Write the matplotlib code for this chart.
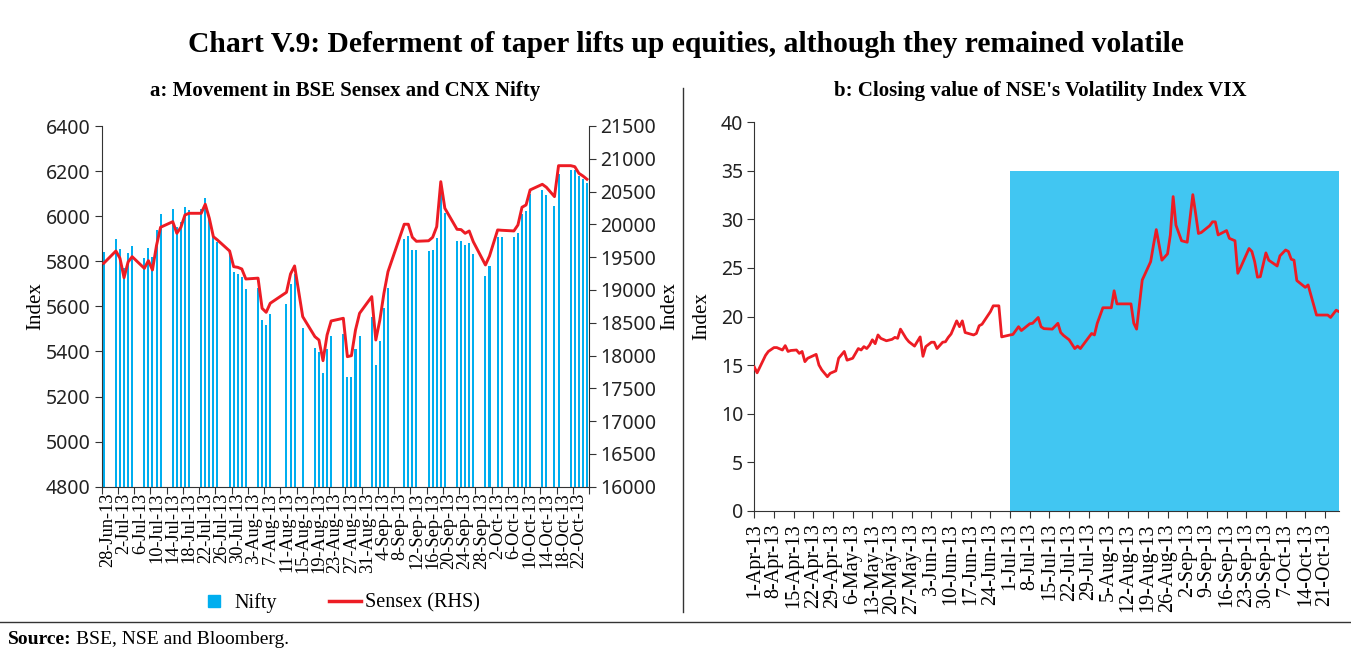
import numpy as np
import pandas as pd
import matplotlib
matplotlib.use('Agg')
import matplotlib.pyplot as plt
from matplotlib.lines import Line2D

# ---- panel a: BSE Sensex and CNX Nifty (trading days) ----
trade_dates = ['2013-06-28',
               '2013-07-01', '2013-07-02', '2013-07-03', '2013-07-04', '2013-07-05',
               '2013-07-08', '2013-07-09', '2013-07-10', '2013-07-11', '2013-07-12',
               '2013-07-15', '2013-07-16', '2013-07-17', '2013-07-18', '2013-07-19',
               '2013-07-22', '2013-07-23', '2013-07-24', '2013-07-25', '2013-07-26',
               '2013-07-29', '2013-07-30', '2013-07-31', '2013-08-01', '2013-08-02',
               '2013-08-05', '2013-08-06', '2013-08-07', '2013-08-08',
               '2013-08-12', '2013-08-13', '2013-08-14', '2013-08-16',
               '2013-08-19', '2013-08-20', '2013-08-21', '2013-08-22', '2013-08-23',
               '2013-08-26', '2013-08-27', '2013-08-28', '2013-08-29', '2013-08-30',
               '2013-09-02', '2013-09-03', '2013-09-04', '2013-09-05', '2013-09-06',
               '2013-09-10', '2013-09-11', '2013-09-12', '2013-09-13',
               '2013-09-16', '2013-09-17', '2013-09-18', '2013-09-19', '2013-09-20',
               '2013-09-23', '2013-09-24', '2013-09-25', '2013-09-26', '2013-09-27',
               '2013-09-30', '2013-10-01', '2013-10-03', '2013-10-04',
               '2013-10-07', '2013-10-08', '2013-10-09', '2013-10-10', '2013-10-11',
               '2013-10-14', '2013-10-15', '2013-10-17', '2013-10-18',
               '2013-10-21', '2013-10-22', '2013-10-23', '2013-10-24', '2013-10-25']
nifty = [5842,
         5897, 5854, 5771, 5835, 5866,
         5813, 5861, 5817, 5938, 6009,
         6032, 5953, 5973, 6039, 6027,
         6032, 6080, 5990, 5907, 5886,
         5835, 5753, 5742, 5730, 5677,
         5682, 5539, 5517, 5564,
         5611, 5700, 5742, 5504,
         5415, 5397, 5303, 5409, 5468,
         5476, 5285, 5285, 5409, 5468,
         5551, 5338, 5445, 5592, 5682,
         5897, 5914, 5849, 5849,
         5844, 5849, 5903, 6115, 6015,
         5891, 5891, 5872, 5883, 5830,
         5735, 5777, 5907, 5907,
         5907, 5925, 6009, 6021, 6098,
         6115, 6092, 6044, 6186,
         6204, 6204, 6180, 6163, 6145]
sensex = [19407,
          19594, 19483, 19187, 19427, 19507,
          19330, 19447, 19305, 19680, 19956,
          20041, 19864, 19956, 20143, 20169,
          20169, 20307, 20093, 19812, 19762,
          19594, 19355, 19345, 19320, 19167,
          19180, 18720, 18659, 18797,
          18964, 19244, 19366, 18593,
          18288, 18237, 17922, 18313, 18527,
          18568, 17983, 17998, 18390, 18644,
          18898, 18237, 18542, 18949, 19279,
          20002, 20002, 19803, 19742,
          19750, 19803, 19965, 20651, 20246,
          19925, 19920, 19864, 19899, 19736,
          19381, 19518, 19915, 19910,
          19900, 19991, 20261, 20296, 20525,
          20611, 20566, 20423, 20895,
          20895, 20880, 20779, 20738, 20688]
a_first, a_last = '2013-06-28', '2013-10-25'

# ---- panel b: NSE VIX closing value ----
vix_dates = ['2013-04-01', '2013-04-02', '2013-04-03', '2013-04-05', '2013-04-06',
             '2013-04-08', '2013-04-09', '2013-04-11', '2013-04-12', '2013-04-13',
             '2013-04-14', '2013-04-16', '2013-04-17', '2013-04-18', '2013-04-19',
             '2013-04-20', '2013-04-23', '2013-04-24', '2013-04-25', '2013-04-27',
             '2013-04-28', '2013-04-30', '2013-05-01', '2013-05-03', '2013-05-04',
             '2013-05-06', '2013-05-08', '2013-05-09', '2013-05-10', '2013-05-11',
             '2013-05-12', '2013-05-13', '2013-05-14', '2013-05-15', '2013-05-16',
             '2013-05-18', '2013-05-20', '2013-05-21', '2013-05-22', '2013-05-23',
             '2013-05-25', '2013-05-26', '2013-05-28', '2013-05-30', '2013-05-31',
             '2013-06-01', '2013-06-03', '2013-06-04', '2013-06-05', '2013-06-07',
             '2013-06-08', '2013-06-09', '2013-06-10', '2013-06-12', '2013-06-13',
             '2013-06-14', '2013-06-15', '2013-06-18', '2013-06-19', '2013-06-20',
             '2013-06-21', '2013-06-24', '2013-06-25', '2013-06-27', '2013-06-28',
             '2013-07-01', '2013-07-02', '2013-07-04', '2013-07-05', '2013-07-08',
             '2013-07-09', '2013-07-11', '2013-07-12', '2013-07-13', '2013-07-16',
             '2013-07-18', '2013-07-19', '2013-07-20', '2013-07-22', '2013-07-24',
             '2013-07-25', '2013-07-26', '2013-07-30', '2013-07-31', '2013-08-01',
             '2013-08-03', '2013-08-06', '2013-08-07', '2013-08-08', '2013-08-13',
             '2013-08-14', '2013-08-15', '2013-08-17', '2013-08-20', '2013-08-21',
             '2013-08-22', '2013-08-24', '2013-08-26', '2013-08-27', '2013-08-28',
             '2013-08-29', '2013-08-31', '2013-09-02', '2013-09-04', '2013-09-05',
             '2013-09-06', '2013-09-07', '2013-09-10', '2013-09-11', '2013-09-12',
             '2013-09-13', '2013-09-16', '2013-09-17', '2013-09-19', '2013-09-20',
             '2013-09-21', '2013-09-24', '2013-09-25', '2013-09-26', '2013-09-27',
             '2013-09-28', '2013-09-30', '2013-10-01', '2013-10-04', '2013-10-05',
             '2013-10-07', '2013-10-08', '2013-10-09', '2013-10-10', '2013-10-11',
             '2013-10-14', '2013-10-15', '2013-10-18', '2013-10-22', '2013-10-23',
             '2013-10-25', '2013-10-26']
vix = [14.8, 14.2, 14.8, 16.0, 16.4,
       16.8, 16.8, 16.55, 17.0, 16.4,
       16.5, 16.55, 16.2, 16.4, 15.35,
       15.7, 16.1, 15.0, 14.5, 13.8,
       14.15, 14.4, 15.7, 16.4, 15.5,
       15.7, 16.7, 16.55, 16.9, 16.7,
       17.05, 17.6, 17.2, 18.1, 17.75,
       17.5, 17.65, 17.85, 17.75, 18.7,
       17.75, 17.4, 16.95, 17.9, 15.9,
       16.9, 17.35, 17.35, 16.7, 17.35,
       17.4, 17.85, 18.2, 19.55, 18.95,
       19.55, 18.35, 18.1, 18.25, 19.05,
       19.2, 20.5, 21.1, 21.1, 17.9,
       18.1, 18.15, 18.95, 18.55, 19.25,
       19.3, 19.9, 18.95, 18.75, 18.7,
       19.3, 18.35, 18.05, 17.6, 16.7,
       16.95, 16.7, 18.25, 18.1, 19.3,
       20.9, 20.9, 22.65, 21.3, 21.3,
       19.3, 18.7, 23.75, 25.65, 27.35,
       28.95, 25.8, 26.45, 28.4, 32.35,
       29.4, 27.8, 27.65, 32.55, 30.6,
       28.55, 28.65, 29.35, 29.75, 29.75,
       28.4, 28.85, 28.05, 27.8, 24.45,
       25.05, 27.0, 26.7, 25.65, 24.05,
       24.1, 26.55, 25.8, 25.2, 26.25,
       26.85, 26.7, 25.9, 25.8, 23.7,
       23.0, 23.25, 20.15, 20.15, 19.9,
       20.65, 20.5]
shade_from = '2013-07-01'
shade_top = 35
b_first, b_last = '2013-04-01', '2013-10-26'

serif = 'Liberation Serif'
sans = 'Noto Sans'
blue = '#00AEEF'
red = '#ED1C24'
shade = '#41C6F2'
dark = '#333333'

fig = plt.figure(figsize=(13.51, 6.62), dpi=100)
W, H = 1351.0, 662.0


def frac(x0, y0, x1, y1):
    return [x0 / W, 1 - y1 / H, (x1 - x0) / W, (y1 - y0) / H]


def style_ticks(ax):
    for lab in ax.get_yticklabels():
        lab.set_fontfamily(sans)
        lab.set_fontsize(14)
        lab.set_color('#222222')


# ---------------- panel a ----------------
a0 = pd.Timestamp(a_first)
n_days = (pd.Timestamp(a_last) - a0).days + 1
xa = (pd.to_datetime(trade_dates) - a0).days.values

ax1 = fig.add_axes(frac(101.7, 126, 589, 486.7))
ax1.bar(xa, nifty, width=0.5, color=blue, zorder=2)
ax1.set_ylim(4800, 6400)
ax1.set_yticks(np.arange(4800, 6401, 200))
ax1.set_xlim(-0.5, n_days - 0.5)

ax2 = ax1.twinx()
ax2.plot(xa, sensex, color=red, lw=2.1, zorder=3)
ax2.set_ylim(16000, 21500)
ax2.set_yticks(np.arange(16000, 21501, 500))
ax2.set_xlim(-0.5, n_days - 0.5)

lab_a = pd.date_range(a0, a_last, freq='4D')
ax1.set_xticks(np.arange(-0.5, n_days, 4))
ax1.set_xticklabels([])
ax1.set_xticks((lab_a - a0).days.values + 1.0, minor=True)
ax1.set_xticklabels([f'{d.day}-{d:%b-%y}' for d in lab_a], minor=True,
                    rotation=90, fontfamily=serif, fontsize=13.2)
ax1.tick_params(axis='x', which='major', length=5, direction='out', color=dark)
ax1.tick_params(axis='x', which='minor', length=0, pad=4)
ax1.tick_params(axis='y', length=5, color=dark, pad=3)
ax2.tick_params(axis='y', length=5, color=dark, pad=3)

for s in ['top', 'right']:
    ax1.spines[s].set_visible(False)
for s in ['top', 'left', 'bottom']:
    ax2.spines[s].set_visible(False)
for a in (ax1, ax2):
    for s in a.spines.values():
        s.set_color(dark)
style_ticks(ax1)
style_ticks(ax2)
ax1.set_ylabel('Index', fontfamily=serif, fontsize=15)
ax1.yaxis.set_label_coords(-0.116, 0.5)
ax2.set_ylabel('Index', fontfamily=serif, fontsize=15, rotation=90)
ax2.yaxis.set_label_coords(1.146, 0.5)

# ---------------- panel b ----------------
b0 = pd.Timestamp(b_first)
xb = (pd.to_datetime(vix_dates) - b0).days.values
b_end = (pd.Timestamp(b_last) - b0).days
s0 = (pd.Timestamp(shade_from) - b0).days

ax3 = fig.add_axes(frac(754.3, 122.3, 1339, 510.7))
ax3.fill_between([s0, b_end], 0, shade_top, color=shade, lw=0, zorder=1)
ax3.plot(xb, vix, color=red, lw=2.0, zorder=3)
ax3.set_xlim(0, b_end)
ax3.set_ylim(0, 40)
ax3.set_yticks(np.arange(0, 41, 5))
lab_b = pd.date_range(b0, '2013-10-21', freq='7D')
ax3.set_xticks((lab_b - b0).days.values)
ax3.set_xticklabels([f'{d.day}-{d:%b-%y}' for d in lab_b], rotation=90,
                    fontfamily=serif, fontsize=14.5)
ax3.tick_params(axis='x', length=5, color=dark, pad=4)
ax3.tick_params(axis='y', length=5, color=dark, pad=3)
for s in ['top', 'right']:
    ax3.spines[s].set_visible(False)
for s in ax3.spines.values():
    s.set_color(dark)
style_ticks(ax3)
ax3.set_ylabel('Index', fontfamily=serif, fontsize=15)
ax3.yaxis.set_label_coords(-0.074, 0.5)

# ---------------- titles, legend, frame ----------------
fig.text(686 / W, 1 - 45 / H,
         'Chart V.9: Deferment of taper lifts up equities, although they remained volatile',
         ha='center', va='center', fontfamily=serif, fontweight='bold', fontsize=21.3)
fig.text(345 / W, 1 - 91 / H, 'a: Movement in BSE Sensex and CNX Nifty',
         ha='center', va='center', fontfamily=serif, fontweight='bold', fontsize=15)
fig.text(1040 / W, 1 - 91 / H, "b: Closing value of NSE's Volatility Index VIX",
         ha='center', va='center', fontfamily=serif, fontweight='bold', fontsize=15)

handles = [Line2D([], [], marker='s', linestyle='none', markersize=8, color=blue),
           Line2D([], [], color=red, lw=2.5)]
fig.legend(handles, ['Nifty', 'Sensex (RHS)'], loc='center',
           bbox_to_anchor=(339 / W, 1 - 603 / H), ncol=2, frameon=False,
           prop={'family': serif, 'size': 14.5}, handlelength=1.6,
           handletextpad=0.2, columnspacing=2.6)

fig.add_artist(Line2D([683 / W, 683 / W], [1 - 88 / H, 1 - 612 / H], color=dark, lw=1))
fig.add_artist(Line2D([0, 1], [1 - 622 / H, 1 - 622 / H], color=dark, lw=1))

fig.text(8 / W, 1 - 640 / H, 'Source:', ha='left', va='center',
         fontfamily=serif, fontweight='bold', fontsize=14)
fig.text(76 / W, 1 - 640 / H, 'BSE, NSE and Bloomberg.', ha='left', va='center',
         fontfamily=serif, fontsize=14)

fig.savefig('out.png', dpi=100)
